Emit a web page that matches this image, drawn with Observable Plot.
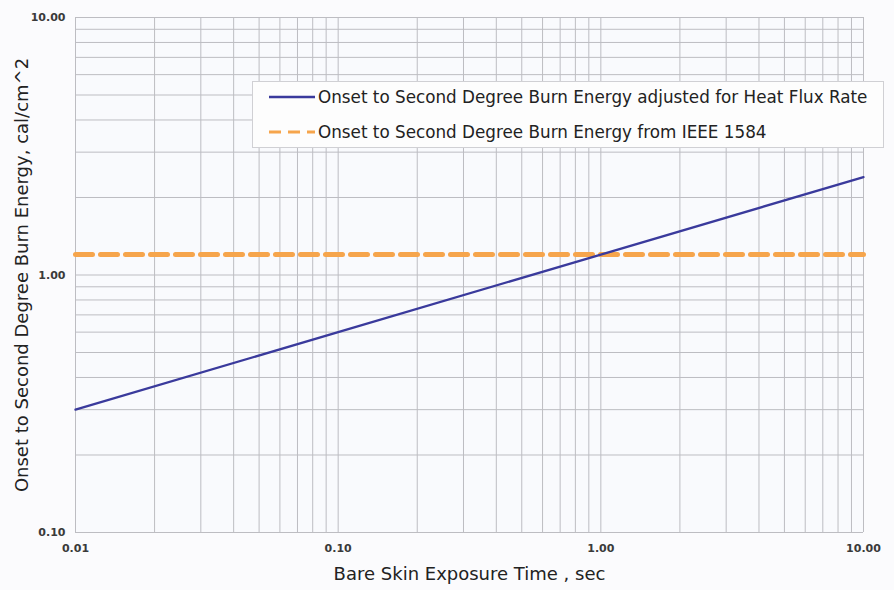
<!DOCTYPE html>
<html>
<head>
<meta charset="utf-8">
<script src="https://cdn.jsdelivr.net/npm/d3@7"></script>
<script src="https://cdn.jsdelivr.net/npm/@observablehq/plot@0.6"></script>
<style>
  html, body { margin: 0; padding: 0; background: #fbfbfd; }
  #wrap { position: relative; width: 894px; height: 590px; font-family: "DejaVu Sans", Verdana, sans-serif; }
  #legend { position: absolute; left: 252px; top: 81px; width: 632px; height: 67px; background: #fdfdfd;
            border: 1px solid #d0d0d4; box-sizing: border-box; font-size: 16.8px; color: #222; }
  .row { position: absolute; left: 16px; display: flex; align-items: center; white-space: nowrap; }
  .row svg { margin-right: 2px; }
</style>
</head>
<body>
<div id="wrap"></div>
<script>
// Data
const adjustedTime = [0.01, 0.1, 1, 10];
const adjustedEnergy = [0.30, 0.60, 1.20, 2.40];
const ieeeTime = [0.01, 10];
const ieeeEnergy = [1.2, 1.2];
const xTicks = [0.01, 0.1, 1, 10];
const yTicks = [0.1, 1, 10];
const seriesNames = [
  "Onset to Second Degree Burn Energy adjusted for Heat Flux Rate",
  "Onset to Second Degree Burn Energy from IEEE 1584"
];
const xLabel = "Bare Skin Exposure Time , sec";
const yLabel = "Onset to Second Degree Burn Energy, cal/cm^2";

const blue = "#3a3a9c";
const orange = "#f6a54c";

const adjusted = adjustedTime.map((t, i) => ({t, e: adjustedEnergy[i]}));
const ieee = ieeeTime.map((t, i) => ({t, e: ieeeEnergy[i]}));

// minor grid values (1..9 per decade)
function minor(ticks) {
  const out = [];
  for (let k = 0; k < ticks.length - 1; k++) for (let m = 1; m <= 9; m++) out.push(ticks[k] * m);
  out.push(ticks[ticks.length - 1]);
  return out;
}
const xGrid = minor(xTicks);
const yGrid = minor(yTicks);

const chart = Plot.plot({
  width: 894,
  height: 590,
  marginLeft: 75,
  marginRight: 31,
  marginTop: 17,
  marginBottom: 58,
  style: { background: "transparent", fontFamily: "DejaVu Sans, Verdana, sans-serif" },
  x: { type: "log", domain: [0.01, 10] },
  y: { type: "log", domain: [0.1, 10] },
  marks: [
    Plot.frame({ fill: "#f9fafd", stroke: null }),
    Plot.ruleX(xGrid, { stroke: "#bdbdc2", strokeWidth: 1 }),
    Plot.ruleY(yGrid, { stroke: "#bdbdc2", strokeWidth: 1 }),
    Plot.axisX({ ticks: xTicks, tickFormat: d => d.toFixed(2), tickSize: 0, tickPadding: 12, fontSize: 11, fontWeight: "bold", fill: "#3a3a3a", label: null }),
    Plot.axisY({ ticks: yTicks, tickFormat: d => d.toFixed(2), tickSize: 0, tickPadding: 10, fontSize: 11, fontWeight: "bold", fill: "#3a3a3a", label: null }),
    Plot.line(ieee, { x: "t", y: "e", stroke: orange, strokeWidth: 5, strokeDasharray: "17,8" }),
    Plot.line(adjusted, { x: "t", y: "e", stroke: blue, strokeWidth: 2.3 }),
    Plot.text([xLabel], { frameAnchor: "bottom", dy: 47, fontSize: 18, fill: "#222" }),
    Plot.text([yLabel], { frameAnchor: "left", dx: -53, rotate: -90, textAnchor: "middle", fontSize: 18, fill: "#222" })
  ]
});

const wrap = document.getElementById("wrap");
wrap.appendChild(chart);

const legend = document.createElement("div");
legend.id = "legend";
const styles = [
  { stroke: blue, width: 2.5, dash: null },
  { stroke: orange, width: 3, dash: "12,7" }
];
seriesNames.forEach((name, i) => {
  const row = document.createElement("div");
  row.className = "row";
  row.style.top = (i === 0 ? 5 : 40) + "px";
  const s = styles[i];
  row.innerHTML = `<svg width="47" height="20"><line x1="0" x2="46" y1="10" y2="10" stroke="${s.stroke}" stroke-width="${s.width}" ${s.dash ? `stroke-dasharray="${s.dash}"` : ""}/></svg><span>${name}</span>`;
  legend.appendChild(row);
});
wrap.appendChild(legend);
</script>
</body>
</html>
